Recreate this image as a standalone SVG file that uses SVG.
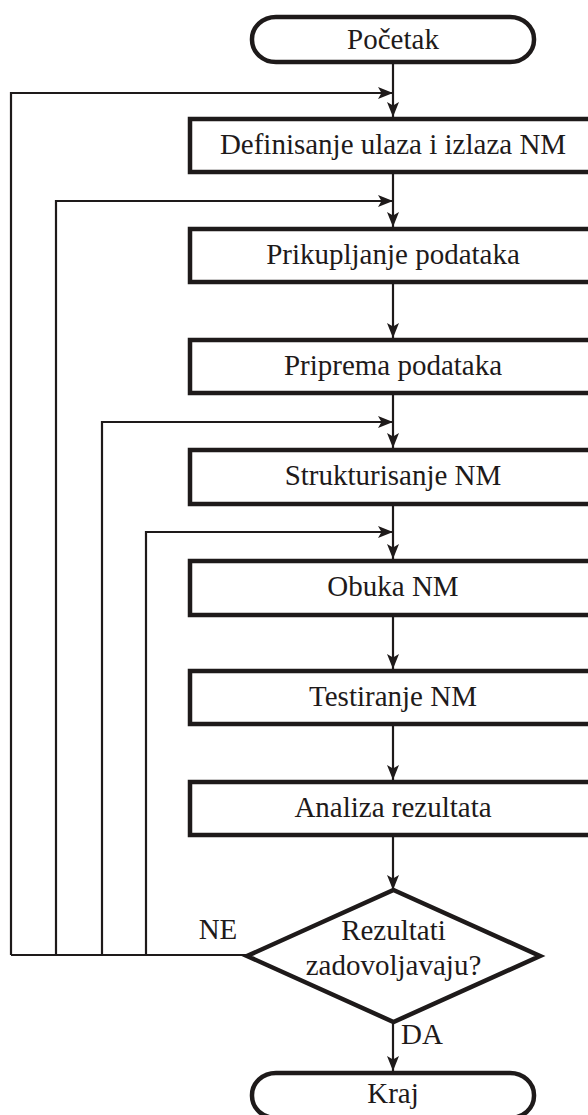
<svg xmlns="http://www.w3.org/2000/svg" width="588" height="1115" viewBox="0 0 588 1115">
  <style>
    .shape { fill: #ffffff; stroke: #1e1a1a; stroke-width: 4.5; }
    .label { font-family: "Liberation Serif", "Times New Roman", serif; font-size: 29px; fill: #1e1a1a; text-anchor: middle; }
    .flow { fill: none; stroke: #1e1a1a; stroke-width: 2.2; }
  </style>
  <defs>
    <marker id="arrow" markerUnits="userSpaceOnUse" markerWidth="16" markerHeight="12" refX="15" refY="6" orient="auto">
      <path d="M0,0 L15,6 L0,12 L3.5,6 Z" fill="#1e1a1a"/>
    </marker>
  </defs>

  <rect x="0" y="0" width="588" height="1115" fill="#ffffff"/>

  <!-- connectors -->
  <g id="connectors" class="flow">
    <line x1="393" y1="64" x2="393" y2="117" marker-end="url(#arrow)"/>
    <line x1="393" y1="174" x2="393" y2="227" marker-end="url(#arrow)"/>
    <line x1="393" y1="284" x2="393" y2="338" marker-end="url(#arrow)"/>
    <line x1="393" y1="395" x2="393" y2="448" marker-end="url(#arrow)"/>
    <line x1="393" y1="506" x2="393" y2="559" marker-end="url(#arrow)"/>
    <line x1="393" y1="617" x2="393" y2="669" marker-end="url(#arrow)"/>
    <line x1="393" y1="726" x2="393" y2="780" marker-end="url(#arrow)"/>
    <line x1="393" y1="837" x2="393" y2="890" marker-end="url(#arrow)"/>
    <line x1="393" y1="1022" x2="393" y2="1071" marker-end="url(#arrow)"/>
    <!-- NE branch: return paths back into the flow -->
    <line x1="247" y1="955" x2="11" y2="955"/>
    <polyline points="11,955 11,93 393,93" marker-end="url(#arrow)"/>
    <polyline points="56,955 56,201 393,201" marker-end="url(#arrow)"/>
    <polyline points="102,955 102,422 393,422" marker-end="url(#arrow)"/>
    <polyline points="146,955 146,532 393,532" marker-end="url(#arrow)"/>
  </g>

  <g id="start">
    <rect class="shape" x="252" y="17" width="282" height="45" rx="24" ry="22"/>
    <text class="label" x="393" y="49">Početak</text>
  </g>

  <g id="define-io">
    <rect class="shape" x="190" y="119" width="406" height="53"/>
    <text class="label" x="393" y="153.5">Definisanje ulaza i izlaza NM</text>
  </g>

  <g id="collect-data">
    <rect class="shape" x="190" y="229" width="406" height="53"/>
    <text class="label" x="393" y="263.5">Prikupljanje podataka</text>
  </g>

  <g id="prepare-data">
    <rect class="shape" x="190" y="340" width="406" height="53"/>
    <text class="label" x="393" y="374.5">Priprema podataka</text>
  </g>

  <g id="structure-nm">
    <rect class="shape" x="190" y="450" width="406" height="54"/>
    <text class="label" x="393" y="484.5">Strukturisanje NM</text>
  </g>

  <g id="train-nm">
    <rect class="shape" x="190" y="561" width="406" height="54"/>
    <text class="label" x="393" y="595.5">Obuka NM</text>
  </g>

  <g id="test-nm">
    <rect class="shape" x="190" y="671" width="406" height="53"/>
    <text class="label" x="393" y="705.5">Testiranje NM</text>
  </g>

  <g id="analyze-results">
    <rect class="shape" x="190" y="782" width="406" height="53"/>
    <text class="label" x="393" y="816.5">Analiza rezultata</text>
  </g>

  <g id="decision">
    <polygon class="shape" points="393.5,890 540,956 393.5,1022 247,956"/>
    <text class="label" x="393.5" y="940">Rezultati</text>
    <text class="label" x="393.5" y="975">zadovoljavaju?</text>
    <text class="label" x="218" y="939">NE</text>
    <text class="label" x="422" y="1044">DA</text>
  </g>

  <g id="end">
    <rect class="shape" x="252" y="1073" width="282" height="45" rx="24" ry="22"/>
    <text class="label" x="393" y="1103">Kraj</text>
  </g>
</svg>
